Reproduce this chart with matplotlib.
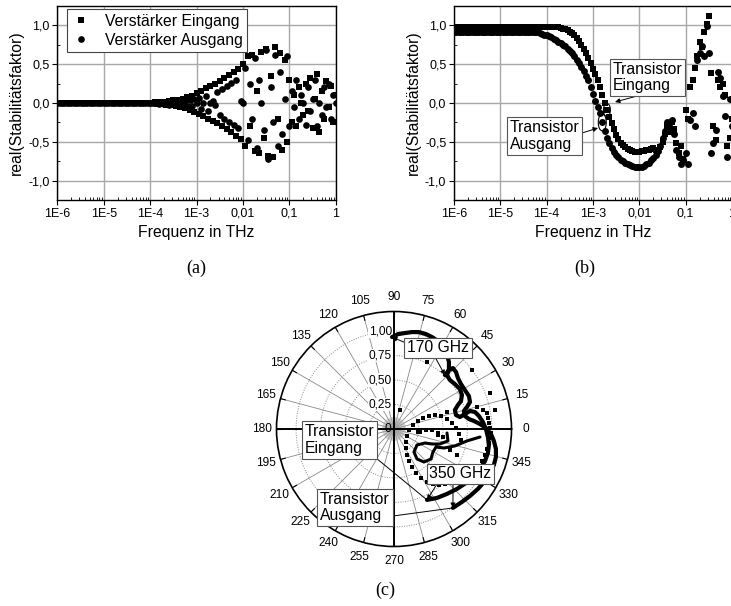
import numpy as np
import matplotlib
matplotlib.use("Agg")
import matplotlib.pyplot as plt
from matplotlib.patches import Ellipse, FancyArrowPatch
from matplotlib.transforms import ScaledTranslation
from matplotlib.ticker import AutoMinorLocator, LogLocator, NullFormatter

plt.rcParams['font.family'] = ['Liberation Sans', 'DejaVu Sans']

# ---------------------------------------------------------------- data
# frequency sweep in THz, 20 points per decade from 1 MHz to 1 THz
freq_thz = np.logspace(-6, 0, 121)

# (a) amplifier input / output stability factor (real part)
amp_in = ([0.0] * 40 +
          [0.005, -0.006, 0.008, -0.01, 0.012, -0.014, 0.017, -0.02, 0.024, -0.028,
           0.033, -0.038, 0.044, -0.05, 0.057, -0.065, 0.074, -0.084, 0.095, -0.11] +
          [0.13, -0.14, 0.16, -0.17, 0.19, -0.2, 0.22, -0.23, 0.25, -0.26,
           0.28, -0.3, 0.32, -0.34, 0.36, -0.38, 0.4, -0.42, 0.44, -0.46] +
          [0.5, -0.55, 0.6, -0.3, 0.62, -0.62, 0.15, -0.65, 0.66, -0.45,
           0.7, -0.68, 0.35, -0.7, 0.72, -0.2, 0.65, -0.6, 0.55, -0.5] +
          [0.3, -0.25, 0.1, -0.3, 0.2, 0.0, -0.15, 0.25, -0.1, 0.32, -0.32,
           0.05, 0.38, -0.38, 0.15, -0.2, 0.28, -0.05, 0.22, -0.25, 0.1])
amp_out = ([0.0] * 40 +
           [-0.004, 0.005, -0.006, 0.008, -0.01, 0.012, -0.014, 0.017, -0.02, 0.023,
            -0.015, 0.018, -0.02, 0.025, -0.028, 0.03, -0.035, 0.04, -0.045, 0.05] +
           [0.0, 0.07, -0.08, 0.0, 0.09, -0.1, 0.0, 0.02, -0.02, 0.14,
            -0.16, 0.18, -0.2, 0.22, -0.24, 0.26, -0.28, 0.3, -0.32, 0.02] +
           [0.0, 0.45, -0.48, 0.25, -0.2, 0.58, -0.58, 0.3, 0.0, -0.35,
            0.68, -0.72, 0.2, -0.25, 0.62, -0.55, 0.4, -0.4, 0.05, 0.6] +
           [-0.3, 0.15, -0.05, 0.3, -0.2, 0.1, 0.0, -0.28, 0.2, -0.1, 0.05,
            0.3, -0.3, 0.0, -0.15, 0.2, -0.05, 0.25, -0.2, 0.1, 0.0])

# (b) transistor input / output stability factor (real part)
tr_in = ([0.985] * 44 +
         [0.98, 0.975, 0.97, 0.96, 0.95, 0.94] +
         [0.92, 0.9, 0.87, 0.84, 0.8, 0.75, 0.7, 0.64, 0.58, 0.51,
          0.44, 0.37, 0.29, 0.2, 0.1, 0.0, -0.09, -0.18, -0.26, -0.34,
          -0.41, -0.46, -0.51, -0.54, -0.57, -0.59, -0.61, -0.62, -0.63, -0.63, -0.63] +
         [-0.62, -0.62, -0.61, -0.6, -0.59, -0.58, -0.6, -0.62, -0.57, -0.5,
          -0.4, -0.3, -0.38, -0.25, -0.33, -0.52, -0.65, -0.55, -0.72, -0.09,
          -0.2, 0.21, 0.3, 0.45, 0.6, 0.78, 0.72, 0.91, 1.02, 1.12,
          0.39, -0.3, -0.48, 0.3, 0.21, 0.25, 0.1, -0.56, -0.45, -0.2])
tr_out = ([0.92] * 35 +
          [0.915, 0.91, 0.9, 0.89, 0.88, 0.87, 0.86, 0.85, 0.83, 0.81,
           0.79, 0.77, 0.75, 0.73, 0.7, 0.67, 0.64, 0.6, 0.56, 0.51,
           0.46, 0.41, 0.35, 0.29, 0.2, 0.11, 0.03, -0.05, -0.13, -0.25,
           -0.36, -0.45, -0.52, -0.58, -0.63, -0.67, -0.7, -0.73, -0.75, -0.77,
           -0.79, -0.8, -0.81, -0.82, -0.83, -0.83, -0.82, -0.81, -0.79, -0.77,
           -0.74, -0.71, -0.67] +
          [-0.62, -0.55, -0.45, -0.36, -0.25, -0.3, -0.22, -0.4, -0.6, -0.7,
           -0.78, -0.74, -0.65, -0.78, -0.22, -0.13, -0.3, 0.55, 0.65, 0.73,
           0.6, 0.99, 0.65, -0.65, -0.52, -0.35, 0.4, 0.32, 0.09, -0.17,
           -0.69, 0.05, -0.3])
marked_in_idx = 66    # highlighted input point
marked_out_idx = 64   # highlighted output point

# (c) complex stability factor 170 GHz ... 350 GHz (real / imaginary part)
k_in_re = [-0.020, 0.041, 0.112, 0.184, 0.255, 0.327, 0.388, 0.449, 0.500, 0.541,
           0.561, 0.561, 0.541, 0.571, 0.622, 0.673, 0.694, 0.684, 0.653, 0.622,
           0.633, 0.673, 0.724, 0.776, 0.827, 0.867, 0.908, 0.939, 0.959, 0.969,
           0.959, 0.929, 0.878, 0.816, 0.735, 0.643, 0.541, 0.439, 0.337]
k_in_im = [0.939, 0.969, 0.980, 0.990, 0.990, 0.969, 0.939, 0.898, 0.837, 0.765,
           0.684, 0.612, 0.551, 0.500, 0.459, 0.408, 0.347, 0.286, 0.245, 0.194,
           0.143, 0.122, 0.153, 0.184, 0.173, 0.133, 0.071, 0.000, -0.082, -0.163,
           -0.245, -0.327, -0.408, -0.480, -0.551, -0.612, -0.663, -0.704, -0.724]
k_out_re = [0.520, 0.561, 0.602, 0.633, 0.653, 0.684, 0.724, 0.765, 0.776, 0.745,
            0.714, 0.724, 0.765, 0.816, 0.878, 0.939, 0.990, 1.020, 1.041, 1.041,
            1.020, 0.980, 0.929, 0.857, 0.776, 0.694, 0.602]
k_out_im = [0.551, 0.602, 0.622, 0.582, 0.520, 0.459, 0.398, 0.337, 0.276, 0.224,
            0.184, 0.133, 0.102, 0.082, 0.051, 0.010, -0.051, -0.122, -0.204, -0.286,
            -0.367, -0.449, -0.531, -0.612, -0.684, -0.745, -0.806]
loop_re = [0.541, 0.551, 0.469, 0.388, 0.316, 0.235, 0.204, 0.235, 0.306, 0.378,
           0.398, 0.429, 0.510, 0.622, 0.745, 0.878]
loop_im = [-0.041, -0.122, -0.153, -0.153, -0.143, -0.163, -0.235, -0.306, -0.337, -0.306,
           -0.235, -0.184, -0.194, -0.173, -0.122, -0.082]
dots_re = [0.13, 0.15, 0.19, 0.245, 0.30, 0.36, 0.42, 0.48, 0.54, 0.59, 0.63, 0.66, 0.68,
           0.12, 0.12, 0.13, 0.15, 0.18, 0.22, 0.28, 0.34, 0.40, 0.46, 0.52, 0.58,
           0.27, 0.33, 0.39, 0.45, 0.50,
           0.95, 0.96, 0.97, 0.98, 0.99, 0.98, 0.97, 0.95, 0.93, 0.90, 0.87,
           0.337, 0.796, 0.98, 0.061, 0.541, 0.847, 1.03, 0.245, 0.449, 0.571, 0.643, 0.908]
dots_im = [-0.07, -0.01, 0.04, 0.08, 0.11, 0.13, 0.14, 0.13, 0.10, 0.06, 0.01, -0.05, -0.11,
           -0.13, -0.19, -0.265, -0.33, -0.39, -0.45, -0.50, -0.54, -0.56, -0.57, -0.56, -0.54,
           -0.03, -0.01, -0.01, -0.04, -0.08,
           0.16, 0.11, 0.06, 0.01, -0.04, -0.09, -0.14, -0.2, -0.265, -0.33, -0.39,
           0.684, 0.602, 0.367, 0.194, 0.173, 0.224, 0.194, -0.031, -0.061, -0.214, -0.265, 0.194]

xtick_vals = [1e-6, 1e-5, 1e-4, 1e-3, 1e-2, 1e-1, 1]
xtick_labels = ['1E-6', '1E-5', '1E-4', '1E-3', '0,01', '0,1', '1']
ytick_vals = [-1.0, -0.5, 0.0, 0.5, 1.0]
ytick_labels = ['-1,0', '-0,5', '0,0', '0,5', '1,0']
theta_ticks = list(range(0, 360, 15))
r_ticks = [0.25, 0.5, 0.75, 1.0]
r_tick_labels = ['0,25', '0,50', '0,75', '1,00']

# ---------------------------------------------------------------- figure
W, H = 731, 606
fig = plt.figure(figsize=(W / 100, H / 100), dpi=100)


def fpos(x, y):
    """pixel position (from top-left) -> figure fraction"""
    return (x / W, 1 - y / H)


def freq_axes(rect):
    ax = fig.add_axes(rect)
    ax.set_xscale('log')
    ax.set_xlim(1e-6, 1)
    ax.set_ylim(-1.25, 1.25)
    ax.set_xticks(xtick_vals)
    ax.set_xticklabels(xtick_labels)
    ax.set_yticks(ytick_vals)
    ax.set_yticklabels(ytick_labels)
    ax.xaxis.set_minor_locator(LogLocator(base=10, subs=np.arange(2, 10), numticks=20))
    ax.xaxis.set_minor_formatter(NullFormatter())
    ax.yaxis.set_minor_locator(AutoMinorLocator(2))
    ax.grid(True, which='major', color='#a8a8a8', lw=1.0)
    ax.set_axisbelow(True)
    ax.tick_params(which='major', direction='out', length=3.5, width=0.8,
                   labelsize=9, pad=2)
    ax.tick_params(which='minor', direction='in', length=2, width=0.6)
    for s in ax.spines.values():
        s.set_linewidth(1.0)
    ax.set_xlabel('Frequenz in THz', fontsize=11.3, labelpad=4)
    ax.set_ylabel('real(Stabilitätsfaktor)', fontsize=11.3, labelpad=3)
    return ax


# (a)
axa = freq_axes([57.3 / W, 1 - 200 / H, 278.4 / W, 194 / H])
axa.plot(freq_thz, amp_in, 's', ms=4.4, color='k', mew=0, label='Verstärker Eingang')
axa.plot(freq_thz, amp_out, 'o', ms=4.8, color='k', mew=0, label='Verstärker Ausgang')
leg = axa.legend(loc='upper left', bbox_to_anchor=(0.035, 0.985), fontsize=11.3,
                 numpoints=1, handlelength=1.2, handletextpad=0.9, borderpad=0.3,
                 labelspacing=0.25, fancybox=False, framealpha=1, borderaxespad=0)
leg.get_frame().set_edgecolor('#444444')
leg.get_frame().set_linewidth(0.8)

# (b)
axb = freq_axes([454 / W, 1 - 200 / H, 278 / W, 194 / H])
axb.plot(freq_thz, tr_in, 's', ms=4.8, color='k', mew=0)
axb.plot(freq_thz, tr_out, 'o', ms=5.0, color='k', mew=0)

for idx, series, (w, h) in [(marked_in_idx, tr_in, (7, 13)),
                            (marked_out_idx, tr_out, (8, 17))]:
    trans = fig.dpi_scale_trans + ScaledTranslation(freq_thz[idx], series[idx], axb.transData)
    e = Ellipse((0, 0), w / 100, h / 100, transform=trans, fill=False, ec='k', lw=0.8,
                clip_on=False)
    fig.add_artist(e)

box_kw = dict(boxstyle='square,pad=0.18', fc='white', ec='#555555', lw=0.8)
arrow_kw = dict(arrowstyle='-|>', color='k', lw=0.7, mutation_scale=7,
                shrinkA=0, shrinkB=0)
line_kw = dict(arrowstyle='-', color='k', lw=0.7, shrinkA=0, shrinkB=0)

fig.text(*fpos(647.5, 77.5), 'Transistor\nEingang', ha='center', va='center',
         multialignment='left', fontsize=11.3, linespacing=1.15, bbox=box_kw)
fig.text(*fpos(544.5, 136), 'Transistor\nAusgang', ha='center', va='center',
         multialignment='left', fontsize=11.3, linespacing=1.15, bbox=box_kw)
fig.add_artist(FancyArrowPatch(fpos(641, 95), fpos(615, 102),
                               transform=fig.transFigure, **arrow_kw))
fig.add_artist(FancyArrowPatch(fpos(582, 133), fpos(598, 128),
                               transform=fig.transFigure, **arrow_kw))

# (c) polar plot
axp = fig.add_axes([276.5 / W, 1 - 546.5 / H, 235 / W, 235 / H], projection='polar')
axp.set_ylim(0, 1.2)
axp.set_thetagrids(theta_ticks, labels=[str(t) for t in theta_ticks], fontsize=8.6)
axp.set_rgrids(r_ticks, labels=[''] * len(r_ticks))
axp.xaxis.grid(True, color='#8a8a8a', lw=0.6, ls='-')
axp.yaxis.grid(True, color='#8a8a8a', lw=0.7, ls=(0, (1, 1.5)))
axp.spines['polar'].set_linewidth(1.2)
axp.tick_params(axis='x', pad=0)
axp.set_axisbelow(True)

for a in range(0, 360, 5):
    axp.plot([np.deg2rad(a)] * 2, [0, 0.12], color='#a0a0a0', lw=0.35, zorder=1)
for a in theta_ticks:
    axp.plot([np.deg2rad(a)] * 2, [1.15, 1.2], color='k', lw=0.8, zorder=2)
for a in (0, 90, 180, 270):
    axp.plot([np.deg2rad(a)] * 2, [0, 1.2], color='k', lw=1.4, zorder=2,
             solid_capstyle='butt')
axp.annotate('0', (np.pi / 2, 0), xytext=(-2, 0), textcoords='offset points',
             ha='right', va='center', fontsize=8.6, zorder=3)
for r, lab in zip(r_ticks, r_tick_labels):
    axp.annotate(lab, (np.pi / 2, r), xytext=(-1.5, 0), textcoords='offset points',
                 ha='right', va='center', fontsize=8.6, zorder=3,
                 bbox=dict(boxstyle='square,pad=0.05', fc='white', ec='none'))

z_in = np.array(k_in_re) + 1j * np.array(k_in_im)
z_out = np.array(k_out_re) + 1j * np.array(k_out_im)
z_loop = np.array(loop_re) + 1j * np.array(loop_im)
z_dots = np.array(dots_re) + 1j * np.array(dots_im)

for z, lw in [(z_in, 3.0), (z_out, 3.0), (z_loop, 2.2)]:
    axp.plot(np.angle(z), np.abs(z), '-', color='k', lw=lw, solid_capstyle='round',
             solid_joinstyle='round', zorder=4)
axp.plot(np.angle(z_dots), np.abs(z_dots), 's', color='k', ms=2.5, mew=0, zorder=4)

# labels with pointers
fig.text(*fpos(438, 348), '170 GHz', ha='center', va='center', fontsize=11.3,
         bbox=box_kw, zorder=6)
fig.text(*fpos(460.5, 474), '350 GHz', ha='center', va='center', fontsize=11.3,
         bbox=box_kw, zorder=6)
fig.text(*fpos(339.5, 440), 'Transistor\nEingang', ha='center', va='center',
         multialignment='left', fontsize=11.3, linespacing=1.15, bbox=box_kw, zorder=6)
fig.text(*fpos(355, 507.5), 'Transistor\nAusgang', ha='center', va='center',
         multialignment='left', fontsize=11.3, linespacing=1.15, bbox=box_kw, zorder=6)


def pointer(start_px, z, style):
    axp.annotate('', xy=(np.angle(z), np.abs(z)), xycoords='data',
                 xytext=fpos(*start_px), textcoords='figure fraction',
                 arrowprops=style, zorder=5)


pointer((406, 343), z_in[0], arrow_kw)
pointer((435, 357), z_out[0], arrow_kw)
pointer((437, 484), z_in[-1], arrow_kw)
pointer((453, 483), z_out[-1], arrow_kw)
pointer((376, 458), z_in[-1], line_kw)
pointer((393, 516), z_out[-1], line_kw)

# panel captions
for txt, (x, y) in [('(a)', (196, 268)), ('(b)', (585, 268)), ('(c)', (385, 590))]:
    fig.text(*fpos(x, y), txt, ha='center', va='center', fontsize=13,
             family=['Liberation Serif', 'DejaVu Serif'])

fig.savefig('out.png', dpi=100)
